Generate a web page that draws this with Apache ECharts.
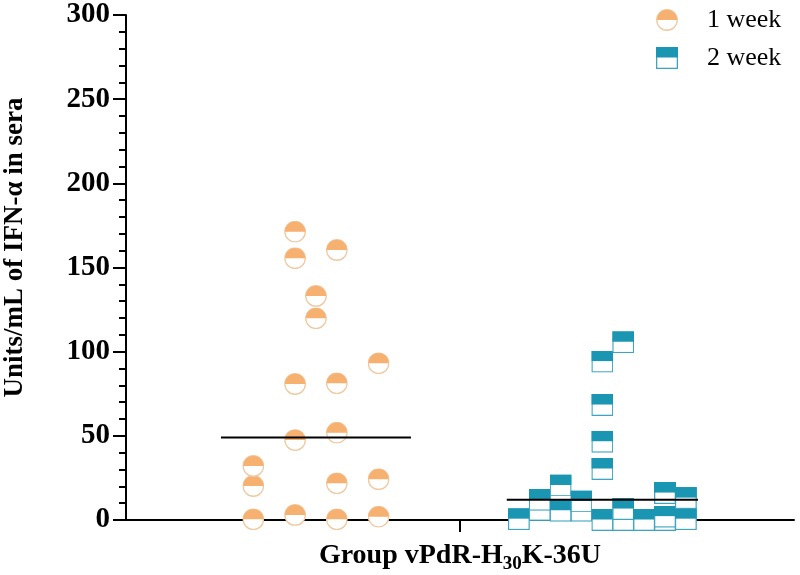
<!DOCTYPE html>
<html><head><meta charset="utf-8">
<script src="https://cdn.jsdelivr.net/npm/echarts@6/dist/echarts.min.js"></script>
<style>html,body{margin:0;padding:0;background:#fff}#c{width:800px;height:575px}</style>
</head><body><div id="c"></div>
<script>
// ---- data ----
const groupLabel = 'Group vPdR-H30K-36U';
const seriesNames = ['1 week', '2 week'];
const yTicks = [0, 50, 100, 150, 200, 250, 300];
// column slot (horizontal jitter column) and value for each animal
const week1Slot   = [0, 0, 0, 2, 2, 2, 2, 2, 3, 3, 4, 4, 4, 4, 4, 6, 6, 6];
const week1Values = [0.4, 20.2, 32.1, 3, 47.5, 80.8, 155.5, 171.3, 119.8, 133.1, 0.4, 21.8, 51.9, 81.2, 160.4, 2, 24.2, 93.1];
const week2Slot   = [0, 1, 1, 2, 2, 3, 3, 4, 4, 4, 4, 4, 5, 5, 5, 6, 7, 7, 7, 8, 8];
const week2Values = [0.5, 6, 12, 5.5, 20.5, 5.5, 11, 0, 30.3, 46.5, 68.3, 94.1, 0, 6.5, 105.6, 0, 0, 2, 16, 0.5, 13];
const medians = [49, 12];

// ---- layout ----
const groupCenters = [-6.9, 6.82];
const slotWidth = 1.0;
const lineHalf = [4.55, 4.58];

const orangeFill = '#F6B070', orangeEdge = '#F0C8A0';
const tealFill = '#1A95B2', tealEdge = '#3FA5BF';
function svgUri(s){ return 'image://data:image/svg+xml;charset=utf-8,' + encodeURIComponent(s); }
const circleSym = svgUri("<svg xmlns='http://www.w3.org/2000/svg' width='44' height='44' viewBox='0 0 44 44'><circle cx='22' cy='22' r='20.5' fill='#ffffff' stroke='"+orangeEdge+"' stroke-width='2.6'/><path d='M1.5,22 A20.5,20.5 0 0 1 42.5,22 Z' fill='"+orangeFill+"'/></svg>");
const squareSym = svgUri("<svg xmlns='http://www.w3.org/2000/svg' width='44' height='44' viewBox='0 0 44 44'><rect x='1.3' y='1.3' width='41.4' height='41.4' fill='#ffffff' stroke='"+tealEdge+"' stroke-width='2.6'/><rect x='0' y='0' width='44' height='21' fill='"+tealFill+"'/></svg>");

function pts(slots, vals, g){
  const maxSlot = Math.max(...slots);
  return slots.map((s,i)=>[groupCenters[g] + (s - maxSlot/2)*slotWidth, vals[i]]);
}
const serif = '"Liberation Serif","DejaVu Serif",serif';
const chart = echarts.init(document.getElementById('c'), null, {renderer:'canvas'});
chart.setOption({
  animation:false,
  grid:{left:126, right:6, top:15, bottom:55, containLabel:false, outerBoundsMode:'none'},
  legend:{
    orient:'vertical', left:651, top:2, itemWidth:22, itemHeight:22, itemGap:12,
    data:[{name:seriesNames[0], icon:circleSym},{name:seriesNames[1], icon:squareSym}],
    textStyle:{fontFamily:serif, fontSize:26, color:'#000', padding:[0,0,0,24]}
  },
  xAxis:{
    type:'value', min:-16, max:16,
    axisLine:{onZero:false, lineStyle:{color:'#000', width:2}},
    axisTick:{show:true, customValues:[0], length:12, lineStyle:{color:'#000', width:2}},
    axisLabel:{show:false}, splitLine:{show:false},
    name:'{a|Group vPdR-H}{s|30}{a|K-36U}', nameLocation:'middle', nameGap:22,
    nameTextStyle:{verticalAlign:'top', padding:[0,0,0,0], rich:{
      a:{fontFamily:serif, fontWeight:'bold', fontSize:28, color:'#000', lineHeight:32, verticalAlign:'top'},
      s:{fontFamily:serif, fontWeight:'bold', fontSize:19, color:'#000', lineHeight:32, verticalAlign:'bottom', padding:[13,0,0,0]}
    }}
  },
  yAxis:{
    type:'value', min:0, max:300, interval:50,
    axisLine:{show:true, onZero:false, lineStyle:{color:'#000', width:2}},
    axisTick:{show:true, length:13, lineStyle:{color:'#000', width:2}},
    minorTick:{show:true, splitNumber:5, length:7, lineStyle:{color:'#000', width:2}},
    axisLabel:{fontFamily:serif, fontWeight:'bold', fontSize:29, color:'#000', margin:16,
      formatter:v=> yTicks.includes(v) ? String(v) : ''},
    splitLine:{show:false},
    name:'Units/mL of IFN-α in sera', nameLocation:'middle', nameGap:97,
    nameTextStyle:{fontFamily:serif, fontWeight:'bold', fontSize:27, color:'#000', padding:[0,0,0,40]}
  },
  series:[
    {name:seriesNames[0], type:'scatter', symbol:circleSym, symbolSize:22, itemStyle:{opacity:1}, data:pts(week1Slot, week1Values, 0), z:3},
    {name:seriesNames[1], type:'scatter', symbol:squareSym, symbolSize:22, itemStyle:{opacity:1}, data:pts(week2Slot, week2Values, 1), z:3},
    {name:'median1', type:'line', symbol:'none', data:[[groupCenters[0]-lineHalf[0], medians[0]],[groupCenters[0]+lineHalf[0], medians[0]]], lineStyle:{color:'#000', width:2}, z:4, silent:true},
    {name:'median2', type:'line', symbol:'none', data:[[groupCenters[1]-lineHalf[1], medians[1]],[groupCenters[1]+lineHalf[1], medians[1]]], lineStyle:{color:'#000', width:2}, z:4, silent:true}
  ]
});
</script></body></html>
